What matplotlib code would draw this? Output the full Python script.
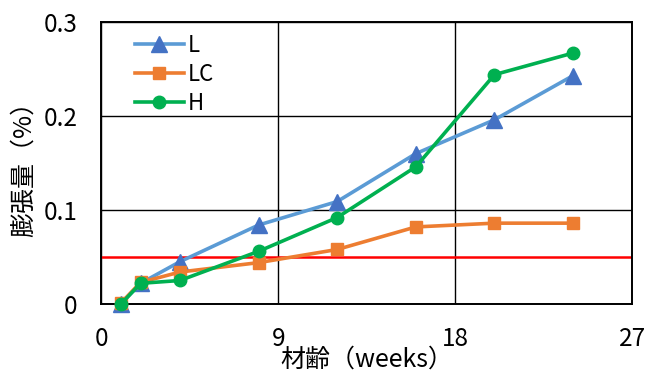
import matplotlib
matplotlib.use("Agg")
import matplotlib.pyplot as plt

plt.rcParams['font.family'] = ['Noto Sans CJK JP', 'DejaVu Sans']

weeks = [1, 2, 4, 8, 12, 16, 20, 24]
expansion_L = [0.0, 0.022, 0.045, 0.084, 0.109, 0.160, 0.196, 0.243]
expansion_LC = [0.001, 0.023, 0.034, 0.044, 0.058, 0.082, 0.086, 0.086]
expansion_H = [0.0, 0.022, 0.025, 0.056, 0.092, 0.146, 0.244, 0.267]
limit = 0.05

x_ticks = [0, 9, 18, 27]
y_ticks = [0, 0.1, 0.2, 0.3]
y_labels = ['0', '0.1', '0.2', '0.3']

fig = plt.figure(figsize=(6.45, 3.73), dpi=100)
ax = fig.add_axes([0.157, 0.185, 0.823, 0.756])

ax.axhline(limit, color='#FF0000', lw=1.8, zorder=2)

ax.plot(weeks, expansion_L, color='#5B9BD5', lw=2.6, marker='^', ms=12,
        mfc='#4472C4', mec='#4472C4', label='L', clip_on=False, zorder=4)
ax.plot(weeks, expansion_LC, color='#ED7D31', lw=2.6, marker='s', ms=8,
        mfc='#ED7D31', mec='#ED7D31', label='LC', clip_on=False, zorder=4)
ax.plot(weeks, expansion_H, color='#00B050', lw=2.6, marker='o', ms=9,
        mfc='#00B050', mec='#00B050', label='H', clip_on=False, zorder=5)

ax.set_xlim(0, 27)
ax.set_ylim(0, 0.3)
ax.set_xticks(x_ticks)
ax.set_yticks(y_ticks)
ax.set_yticklabels(y_labels)
ax.grid(True, color='black', lw=1.0)
ax.set_axisbelow(True)
ax.tick_params(length=0, labelsize=17.5)
ax.tick_params(axis='x', pad=16)
ax.tick_params(axis='y', pad=17)
for s in ax.spines.values():
    s.set_color('black')
    s.set_linewidth(1.4)

ax.set_xlabel('材齢（weeks）', fontsize=18, labelpad=-4)
ax.set_ylabel('膨張量（%）', fontsize=18, labelpad=5)

ax.legend(loc='upper left', frameon=False, fontsize=16, handlelength=2.2,
          handletextpad=0.2, labelspacing=0.27, borderaxespad=0.15,
          bbox_to_anchor=(0.04, 1.0))

fig.savefig('out.png', dpi=100)
